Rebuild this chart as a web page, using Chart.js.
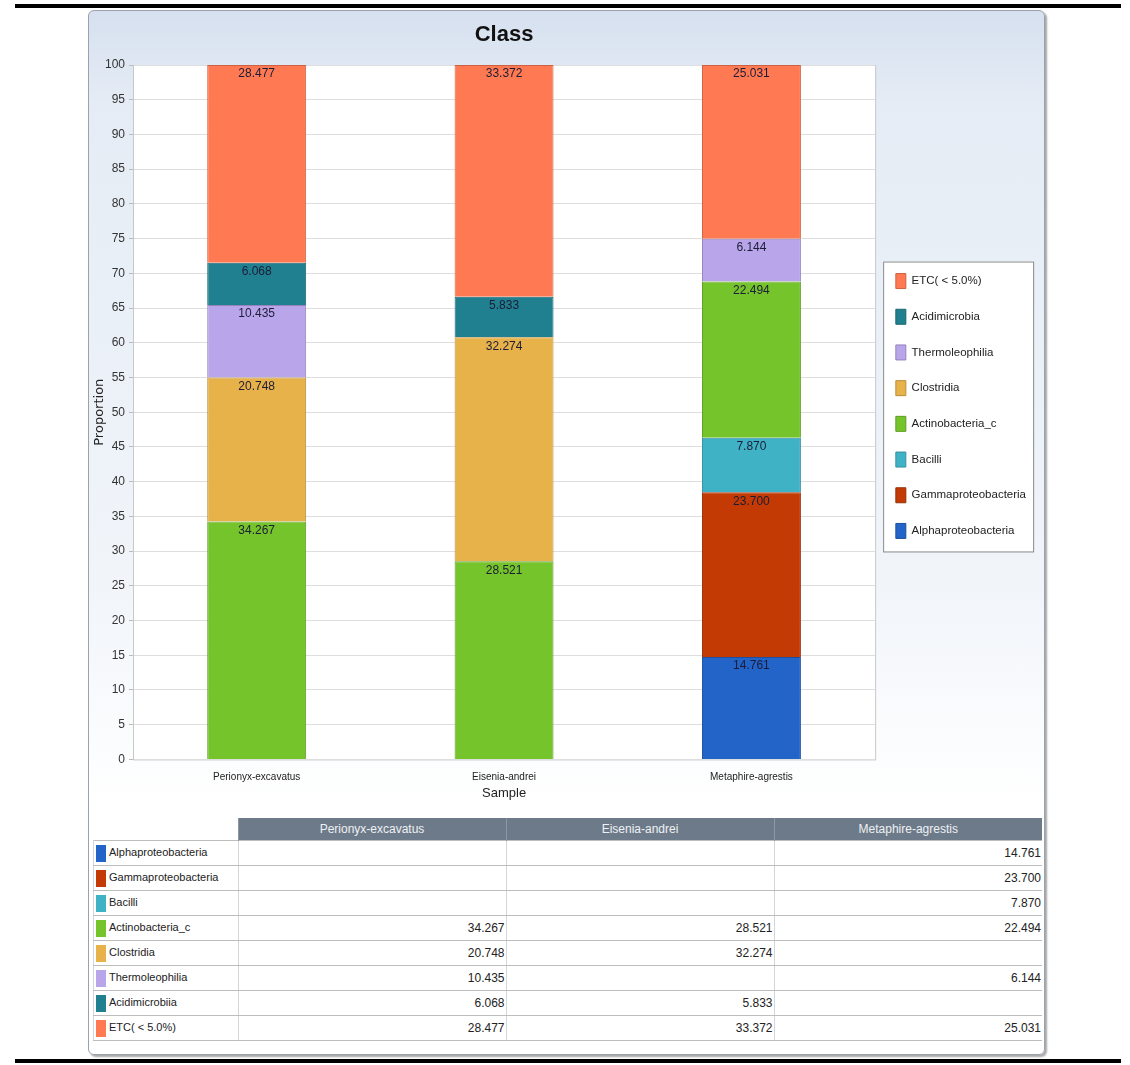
<!DOCTYPE html>
<html lang="en">
<head>
<meta charset="UTF-8">
<title>Class</title>
<script src="https://cdn.jsdelivr.net/npm/chart.js"></script>
<style>
    body {
        margin: 0;
        width: 1130px;
        height: 1065px;
        position: relative;
        overflow: hidden;
        background: #ffffff;
        font-family: 'Liberation Sans', Arial, sans-serif;
    }
    .rule {
        position: absolute;
        left: 15px;
        width: 1106px;
        height: 4px;
        background: #000;
    }
    .panel {
        position: absolute;
        left: 88px;
        top: 10px;
        width: 955px;
        height: 1043px;
        border: 1px solid #9aa2ac;
        border-radius: 6px;
        box-shadow: 2px 2px 2px rgba(0, 0, 0, 0.35);
        background: linear-gradient(#d6e0ef 0%, #e5ecf5 9%, #f1f5fa 55%, #ffffff 76%);
    }
    .chart-wrap {
        position: absolute;
        left: 0;
        top: 0;
        width: 955px;
        height: 800px;
    }
    #dataTable {
        position: absolute;
        left: 4px;
        top: 807px;
        width: 949px;
        border-collapse: collapse;
        table-layout: fixed;
        font-size: 11px;
        color: #222;
    }
    #dataTable th {
        height: 22px;
        padding: 0;
        background: #6d7a89;
        color: #eef1f4;
        font-weight: normal;
        font-size: 12px;
        border-left: 1px solid #8d98a5;
    }
    #dataTable th.blank {
        background: transparent;
        border: none;
    }
    #dataTable td {
        height: 24px;
        padding: 0 1px;
        border-bottom: 1px solid #bdbdbd;
        border-left: 1px solid #d2d6dc;
        text-align: right;
        white-space: nowrap;
        background: #fff;
        font-size: 12px;
    }
    #dataTable td.name {
        text-align: left;
        padding-left: 2px;
        font-size: 11px;
    }
    #dataTable tbody tr:first-child td {
        border-top: 1px solid #bdbdbd;
    }
    .swatch {
        display: inline-block;
        width: 10px;
        height: 17px;
        vertical-align: middle;
        margin-right: 3px;
    }
</style>
</head>
<body>
<div class="rule" style="top:4px"></div>
<div class="panel">
    <div class="chart-wrap"><canvas id="classChart" width="955" height="800"></canvas></div>
    <table id="dataTable">
        <thead><tr id="headRow"><th class="blank" style="width:144px"></th></tr></thead>
        <tbody id="bodyRows"></tbody>
    </table>
</div>
<div class="rule" style="top:1059px"></div>

<script>
    // amostras e classes (de baixo para cima na pilha)
    const samples = ['Perionyx-excavatus', 'Eisenia-andrei', 'Metaphire-agrestis'];
    const classNames = ['Alphaproteobacteria', 'Gammaproteobacteria', 'Bacilli', 'Actinobacteria_c',
        'Clostridia', 'Thermoleophilia', 'Acidimicrobiia', 'ETC( < 5.0%)'];
    const legendNames = ['Alphaproteobacteria', 'Gammaproteobacteria', 'Bacilli', 'Actinobacteria_c',
        'Clostridia', 'Thermoleophilia', 'Acidimicrobia', 'ETC( < 5.0%)'];
    const classColors = ['#2264c8', '#c43a04', '#40b2c6', '#76c42b', '#e8b24a', '#b9a5ea', '#21808f', '#ff7a52'];
    const classBorders = ['#1d4f9c', '#93300a', '#3591a1', '#5e9c24', '#b98d3a', '#9483bb', '#1a6672', '#cc6242'];

    const alphaproteobacteria = [null, null, 14.761];
    const gammaproteobacteria = [null, null, 23.700];
    const bacilli = [null, null, 7.870];
    const actinobacteria = [34.267, 28.521, 22.494];
    const clostridia = [20.748, 32.274, null];
    const thermoleophilia = [10.435, null, 6.144];
    const acidimicrobiia = [6.068, 5.833, null];
    const etc = [28.477, 33.372, 25.031];
    const seriesValues = [alphaproteobacteria, gammaproteobacteria, bacilli, actinobacteria,
        clostridia, thermoleophilia, acidimicrobiia, etc];

    const yTicks = [0, 5, 10, 15, 20, 25, 30, 35, 40, 45, 50, 55, 60, 65, 70, 75, 80, 85, 90, 95, 100];

    const narrow = "'Liberation Sans', Arial, sans-serif";

    // fundo branco da área do gráfico e caixa da legenda
    const frames = {
        id: 'frames',
        beforeDraw(chart) {
            const {ctx, chartArea: a, legend} = chart;
            ctx.save();
            ctx.fillStyle = '#ffffff';
            ctx.fillRect(a.left, a.top, a.right - a.left, a.bottom - a.top);
            ctx.strokeStyle = '#c8c8c8';
            ctx.lineWidth = 1;
            ctx.strokeRect(a.left + 0.5, a.top + 0.5, a.right - a.left, a.bottom - a.top);
            const hb = legend.legendHitBoxes;
            if (hb && hb.length) {
                const top = Math.min(...hb.map(h => h.top)) - 12;
                const bottom = Math.max(...hb.map(h => h.top + h.height)) + 13;
                const left = a.right + 8;
                ctx.fillRect(left, top, 150, bottom - top);
                ctx.strokeStyle = '#8a8a8a';
                ctx.strokeRect(left + 0.5, top + 0.5, 150, bottom - top);
            }
            ctx.restore();
        }
    };

    // valores no topo de cada segmento
    const valueLabels = {
        id: 'valueLabels',
        afterDatasetsDraw(chart) {
            const ctx = chart.ctx;
            ctx.save();
            ctx.font = '12px ' + narrow;
            ctx.fillStyle = '#1c1c38';
            ctx.textAlign = 'center';
            ctx.textBaseline = 'top';
            chart.data.datasets.forEach((ds, i) => {
                chart.getDatasetMeta(i).data.forEach((bar, j) => {
                    const v = ds.data[j];
                    if (v == null) return;
                    ctx.fillText(v.toFixed(3), bar.x, bar.y + 3);
                });
            });
            ctx.restore();
        }
    };

    const datasets = seriesValues.map((vals, i) => ({
        label: legendNames[i],
        data: vals,
        backgroundColor: classColors[i],
        borderColor: classBorders[i],
        borderWidth: 1,
        categoryPercentage: 1,
        barPercentage: 0.4
    }));

    new Chart(document.getElementById('classChart'), {
        type: 'bar',
        data: { labels: samples, datasets: datasets },
        plugins: [frames, valueLabels],
        options: {
            responsive: false,
            animation: false,
            layout: { padding: { left: 0, right: 8, top: 0, bottom: 10 } },
            scales: {
                x: {
                    stacked: true,
                    grid: { display: false, drawTicks: false },
                    border: { display: false },
                    ticks: { color: '#222', font: { family: narrow, size: 10 }, padding: 12 },
                    title: { display: true, text: 'Sample', color: '#222', font: { family: narrow, size: 13 }, padding: { top: -10, bottom: 0 } }
                },
                y: {
                    stacked: true,
                    min: 0,
                    max: 100,
                    afterBuildTicks: scale => { scale.ticks = yTicks.map(v => ({ value: v })); },
                    afterFit: scale => { scale.width = 44; },
                    grid: { color: '#dedede', tickLength: 4, tickColor: '#bcbcbc' },
                    border: { color: '#c8c8c8' },
                    ticks: { color: '#333', font: { family: narrow, size: 12 }, padding: 4 },
                    title: { display: true, text: 'Proportion', color: '#222', font: { family: "'DejaVu Sans', sans-serif", size: 13 }, padding: { top: 3, bottom: 0 } }
                }
            },
            plugins: {
                title: {
                    display: true,
                    fullSize: false,
                    text: 'Class',
                    color: '#111',
                    font: { family: narrow, size: 22, weight: 'bold' },
                    padding: { top: 11, bottom: 16.6 }
                },
                legend: {
                    position: 'right',
                    reverse: true,
                    labels: {
                        boxWidth: 10,
                        boxHeight: 15,
                        padding: 20.7,
                        color: '#222',
                        font: { family: narrow, size: 11.5 }
                    }
                },
                tooltip: { enabled: false }
            }
        }
    });

    // tabela de dados abaixo do gráfico
    const headRow = document.getElementById('headRow');
    samples.forEach(s => {
        const th = document.createElement('th');
        th.textContent = s;
        headRow.appendChild(th);
    });
    const body = document.getElementById('bodyRows');
    classNames.forEach((name, i) => {
        const tr = document.createElement('tr');
        const nameCell = document.createElement('td');
        nameCell.className = 'name';
        nameCell.innerHTML = '<span class="swatch" style="background:' + classColors[i] + '"></span>';
        nameCell.appendChild(document.createTextNode(name));
        tr.appendChild(nameCell);
        seriesValues[i].forEach(v => {
            const td = document.createElement('td');
            td.textContent = v == null ? '' : v.toFixed(3);
            tr.appendChild(td);
        });
        body.appendChild(tr);
    });
</script>
</body>
</html>
